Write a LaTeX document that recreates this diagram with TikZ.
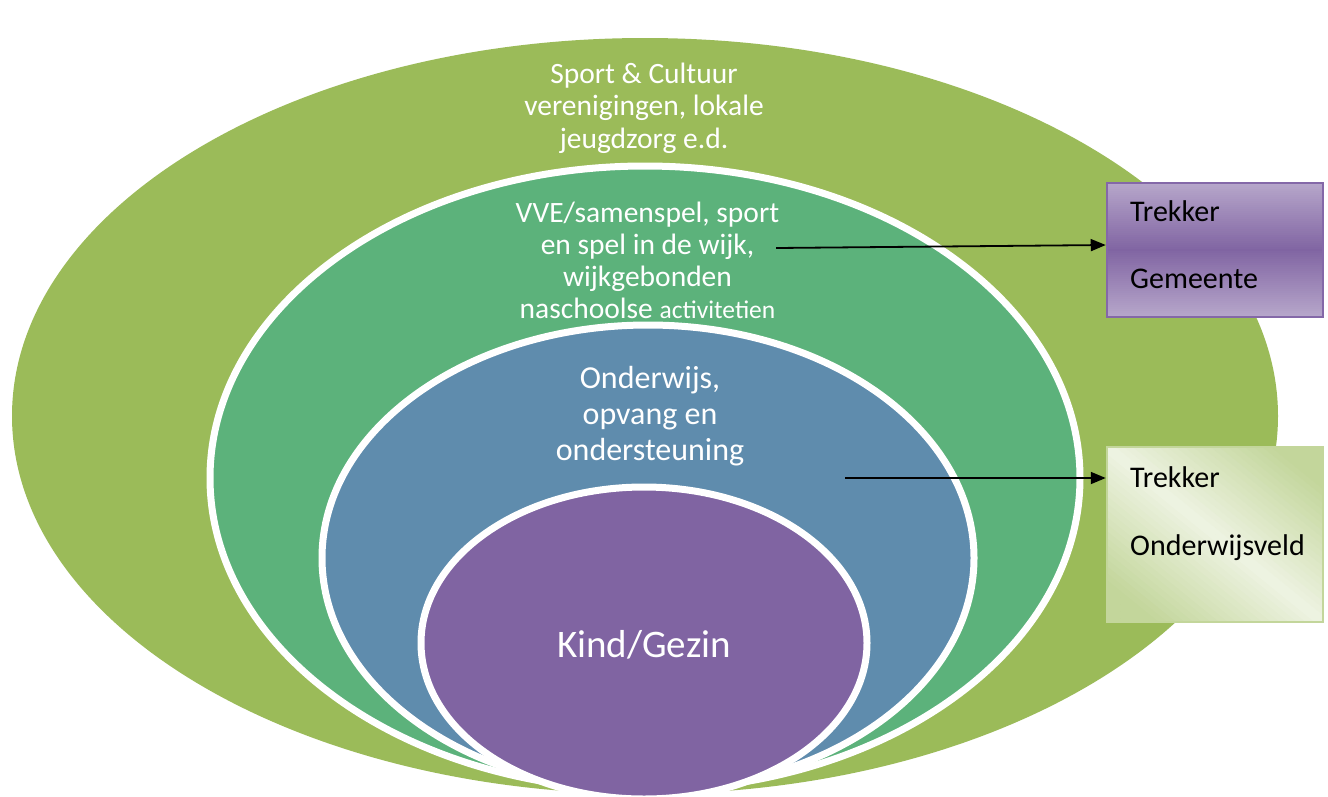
\documentclass[tikz,border=0pt]{standalone}
\usepackage{fontspec}
\setmainfont{Carlito}
\usetikzlibrary{shapes.geometric,arrows.meta}
\definecolor{cOuter}{HTML}{9BBB59}
\definecolor{cSecond}{HTML}{5CB27B}
\definecolor{cThird}{HTML}{5F8CAD}
\definecolor{cInner}{HTML}{8064A2}
\definecolor{cPurpLight}{HTML}{B6A6CA}
\definecolor{cPurpBorder}{HTML}{8468A8}
\definecolor{cGreenLight}{HTML}{EEF3E2}
\definecolor{cGreenDark}{HTML}{C3D69B}
\tikzset{
  ring/.style={ellipse, inner sep=0pt, draw=white, line width=7pt},
  ringtext/.style={text=white, align=center, anchor=base, inner sep=0pt},
  boxtext/.style={text=black, anchor=base west, font=\fontsize{30}{30}\selectfont, inner sep=0pt},
  conn/.style={line width=1.8pt, -{Triangle[length=15pt,width=12pt]}},
}
\begin{document}
\begin{tikzpicture}[x=1pt,y=-1pt]
\useasboundingbox (0,0) rectangle (1328,796);
\clip (0,0) rectangle (1328,796);
\node[ellipse, inner sep=0pt, fill=cOuter, minimum width=1266pt, minimum height=756pt] (outer) at (645,416) {};
\node[ring, fill=cSecond, minimum width=870pt, minimum height=624pt] (second) at (645,478) {};
\node[ring, fill=cThird, minimum width=652pt, minimum height=466pt] (third) at (648,558) {};
\node[ring, fill=cInner, minimum width=446pt, minimum height=312pt] (inner) at (644,643) {};

\node[ringtext, font=\fontsize{29.5}{32.5}\selectfont] (t1) at (644,148) {Sport \& Cultuur\\verenigingen, lokale\\jeugdzorg e.d.};
\node[ringtext, font=\fontsize{29.5}{31.7}\selectfont] (t2) at (647.5,318) {VVE/samenspel, sport\\en spel in de wijk,\\wijkgebonden\\naschoolse {\fontsize{25.5}{31.7}\selectfont activitetien}};
\node[ringtext, font=\fontsize{32}{36}\selectfont] (t3) at (650,460) {Onderwijs,\\opvang en\\ondersteuning};
\node[ringtext, font=\fontsize{39}{42}\selectfont] (t4) at (644,657) {Kind/Gezin};

% purple box gradient (vertical: light - dark - light)
\foreach \i in {0,...,66} {
  \pgfmathtruncatemacro{\p}{100*(1-abs(\i-33)/33)}
  \fill[cInner!\p!cPurpLight] (1107,183+\i*2) rectangle (1323,183+\i*2+2.6);
}
\node[draw=cPurpBorder, line width=2.5pt, minimum width=216pt, minimum height=134pt, inner sep=0pt] (box1) at (1215,250) {};
\node[boxtext] (b1a) at (1130,221) {Trekker};
\node[boxtext] (b1b) at (1130,288) {Gemeente};

% green box gradient (diagonal band)
\begin{scope}[shift={(1107,447)}, x=216pt, y=-175pt]
\clip (0,0) rectangle (1,1);
\foreach \i in {0,...,49} {
  \pgfmathsetmacro{\da}{-1+\i*0.04}
  \pgfmathsetmacro{\db}{\da+0.045}
  \pgfmathtruncatemacro{\p}{100*min(1,abs(\da+0.02)*1.3)}
  \fill[cGreenDark!\p!cGreenLight] (-1,-1-\da) -- (2,2-\da) -- (2,2-\db) -- (-1,-1-\db) -- cycle;
}
\end{scope}
\node[draw=cGreenDark, line width=2.5pt, minimum width=216pt, minimum height=175pt, inner sep=0pt] (box2) at (1215,534.5) {};
\node[boxtext] (b2a) at (1130,487) {Trekker};
\node[boxtext] (b2b) at (1130,555) {Onderwijsveld};

\coordinate (s1) at (776,248);
\coordinate (s2) at (845,478);
\draw[conn] (s1) -- (box1.west |- 0,245);
\draw[conn] (s2) -- (box2.west |- 0,478);
\end{tikzpicture}
\end{document}
